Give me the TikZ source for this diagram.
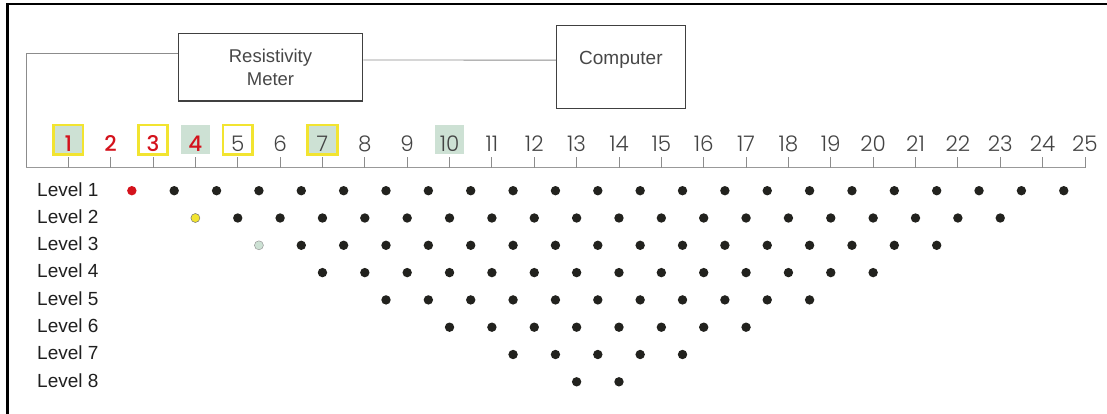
\documentclass[tikz,border=0pt]{standalone}
\usepackage{fontspec}
\setmainfont{Liberation Sans}
\newfontfamily\numfont{Poppins Light}
\newfontfamily\numredfont{Poppins Medium}
\usepackage{xcolor}
\definecolor{elyellow}{RGB}{242,228,48}
\definecolor{elgreen}{RGB}{205,225,212}
\definecolor{elred}{RGB}{212,18,28}
\definecolor{numgray}{RGB}{68,68,68}
\definecolor{dotblack}{RGB}{34,34,30}

\begin{document}
\begin{tikzpicture}[x=1pt,y=-1pt,
			% Define the styles
			every node/.style={inner sep=0pt},
			dev/.style={draw=black!75, line width=1.1pt, text=black!72, align=center, font=\fontsize{18.5}{22.6}\selectfont},
			wire/.style={draw=black!45, line width=0.9pt},
			axisline/.style={draw=black!40, line width=1.4pt},
			tick/.style={draw=black!45, line width=0.9pt},
			num/.style={anchor=base, font=\numfont\fontsize{21.5}{24}\selectfont, text=numgray, minimum size=29.5pt, text height=24pt, text depth=0pt},
			redno/.style={font=\numredfont\fontsize{21.5}{24}\selectfont, text=elred},
			ybox/.style={draw=elyellow, line width=2.8pt, fill=white},
			gbox/.style={fill=elgreen},
			lev/.style={anchor=base west, text=black!88, font=\fontsize{19}{22}\selectfont},
			dot/.style={circle, fill=dotblack, minimum size=9.4pt}
			]

			\useasboundingbox (0,0) rectangle (1107,414);

			% frame
			\draw[line width=2.7pt] (7.3,414) -- (7.3,4) -- (1107,4);

			% instruments
			\node[dev, minimum width=184.4pt, minimum height=67.7pt] (meter) at (270.5,67.2) {Resistivity\\Meter};
			\node[dev, minimum width=128.3pt, minimum height=82.7pt, text depth=18.6pt, font=\fontsize{19}{22}\selectfont] (pc) at (620.9,67.3) {Computer};

			\coordinate (lineL) at (26,167.7);
			\coordinate (lineR) at (1085,167.7);
			\coordinate (numline) at (0,151.7);

			\draw[wire] ([yshift=13.9pt]meter.west) -| (lineL);
			\draw[wire] ([yshift=7.2pt]meter.east) -- ([yshift=7.2pt]pc.west);
			\draw[axisline] (lineL) -- (lineR);

			% electrodes
			\foreach \i in {1,...,25} {
				\coordinate (t\i) at ({68.3+42.36*(\i-1)},167.7);
				\draw[tick] (t\i) -- ++(0,-11);
			}

			\node[num, ybox, gbox, redno] (n1) at (t1 |- numline) {1};
			\node[num, redno] (n2) at (t2 |- numline) {2};
			\node[num, ybox, redno] (n3) at (t3 |- numline) {3};
			\node[num, gbox, redno] (n4) at (t4 |- numline) {4};
			\node[num, ybox] (n5) at (t5 |- numline) {5};
			\node[num, ybox, gbox] (n7) at (t7 |- numline) {7};
			\node[num, gbox] (n10) at (t10 |- numline) {10};
			\foreach \i in {6,8,9,11,12,...,25}
				\node[num] (n\i) at (t\i |- numline) {\i};

			% levels and data points
			\foreach \n in {1,...,8} {
				\node[lev] (l\n) at (37,{196+27.3*(\n-1)}) {Level \n};
				\pgfmathtruncatemacro\first{\n<4 ? 1 : 0}
				\pgfmathtruncatemacro\last{25-3*\n}
				\foreach \j in {\first,...,\last}
					\node[dot] (d\n-\j) at ({68.3+42.36*(1.5*\n+\j)},{190.7+27.3*(\n-1)}) {};
			}

			\node[dot, fill=elred] (d1-0) at ({68.3+42.36*1.5},190.7) {};
			\node[dot, fill=elyellow, draw=black!55, line width=0.5pt, minimum size=9pt] (d2-0) at ({68.3+42.36*3},218) {};
			\node[dot, fill=elgreen, draw=black!40, line width=0.5pt, minimum size=9pt] (d3-0) at ({68.3+42.36*4.5},245.3) {};

		\end{tikzpicture}
\end{document}
